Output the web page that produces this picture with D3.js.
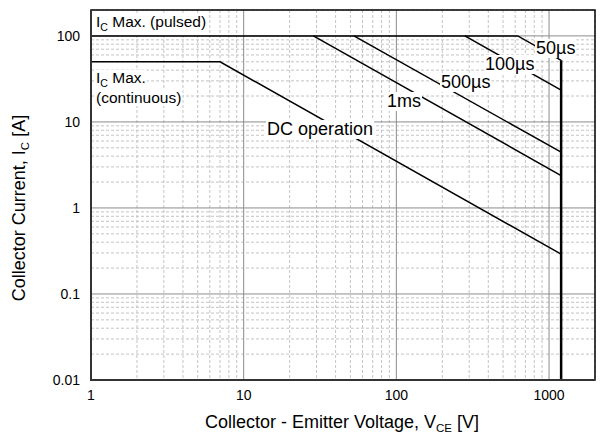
<!DOCTYPE html>
<html>
<head>
<meta charset="utf-8">
<script src="https://cdn.jsdelivr.net/npm/d3@7"></script>
<style>
	body { margin: 0; background: #fff; }
	text { font-family: "Liberation Sans", Arial, sans-serif; fill: #000; }
</style>
</head>
<body>
<svg id="svg" width="602" height="435"></svg>
<script>
// axis ranges and ticks
const xDomain = [1, 2000];
const yDomain = [0.01, 200];
const xTickValues = [1, 10, 100, 1000];
const yTickValues = [0.01, 0.1, 1, 10, 100];

// SOA boundaries (VCE [V], IC [A])
const pulsedMax = [[1, 100], [624, 100], [1200, 52]];   // Ic max pulsed + 50us
const pulse100us = [[281, 100], [1200, 23.4]];
const pulse500us = [[52.7, 100], [1200, 4.45]];
const pulse1ms = [[28.6, 100], [1200, 2.38]];
const dcOperation = [[1, 50], [7, 50], [1200, 0.29]];
const vceLimit = [[1200, 52], [1200, 0.01]];

const margin = { left: 91, top: 10, right: 7, bottom: 55 };
const width = 602 - margin.left - margin.right,
	height = 435 - margin.top - margin.bottom;

const svg = d3.select('#svg');
const g = svg.append('g').attr('transform', `translate(${margin.left},${margin.top})`);

const x = d3.scaleLog().domain(xDomain).range([0, width]);
const y = d3.scaleLog().domain(yDomain).range([height, 0]);

const isDecade = v => Math.abs(Math.log10(v) - Math.round(Math.log10(v))) < 1e-9;

// minor grid
const xMinor = x.ticks().filter(v => !isDecade(v));
const yMinor = y.ticks().filter(v => !isDecade(v));
g.append('g').selectAll('line').data(xMinor).enter().append('line')
	.attr('x1', d => x(d)).attr('x2', d => x(d)).attr('y1', 0).attr('y2', height)
	.attr('stroke', '#c4c4c4').attr('stroke-dasharray', '3,2').attr('stroke-width', 1);
g.append('g').selectAll('line').data(yMinor).enter().append('line')
	.attr('y1', d => y(d)).attr('y2', d => y(d)).attr('x1', 0).attr('x2', width)
	.attr('stroke', '#c4c4c4').attr('stroke-dasharray', '3,2').attr('stroke-width', 1);

// major grid
g.append('g').selectAll('line').data(xTickValues).enter().append('line')
	.attr('x1', d => x(d)).attr('x2', d => x(d)).attr('y1', 0).attr('y2', height)
	.attr('stroke', '#8c8c8c').attr('stroke-width', 1);
g.append('g').selectAll('line').data(yTickValues).enter().append('line')
	.attr('y1', d => y(d)).attr('y2', d => y(d)).attr('x1', 0).attr('x2', width)
	.attr('stroke', '#8c8c8c').attr('stroke-width', 1);

// curves
const line = d3.line().x(d => x(d[0])).y(d => y(d[1]));
[pulsedMax, pulse100us, pulse500us, pulse1ms, dcOperation].forEach(s => {
	g.append('path').datum(s).attr('d', line)
		.attr('fill', 'none').attr('stroke', '#000').attr('stroke-width', 1.5);
});
g.append('path').datum(vceLimit).attr('d', line)
	.attr('fill', 'none').attr('stroke', '#000').attr('stroke-width', 2.5);

// labels with white boxes
function label(px, py, size, parts) {
	let lg = g.append('g');
	let t = lg.append('text').attr('x', px - margin.left).attr('y', py - margin.top)
		.style('font-size', size + 'px');
	parts.forEach(p => {
		let ts = t.append('tspan').text(p.t);
		if (p.sub) ts.style('font-size', (size * 0.68) + 'px').attr('dy', 4);
		if (p.back) ts.attr('dy', -4);
	});
	let b = t.node().getBBox();
	lg.insert('rect', 'text').attr('x', b.x - 1).attr('y', b.y + 1)
		.attr('width', b.width + 2).attr('height', b.height - 1).attr('fill', '#fff');
}
label(96, 27, 15.5, [{ t: 'I' }, { t: 'C', sub: true }, { t: ' Max. (pulsed)', back: true }]);
label(96, 83, 15.5, [{ t: 'I' }, { t: 'C', sub: true }, { t: ' Max.', back: true }]);
label(96, 103, 15.5, [{ t: '(continuous)' }]);
label(267, 135, 18, [{ t: 'DC operation' }]);
label(387, 107, 18, [{ t: '1ms' }]);
label(441, 88, 18, [{ t: '500\u00b5s' }]);
label(485, 70, 18, [{ t: '100\u00b5s' }]);
label(536, 54, 18, [{ t: '50\u00b5s' }]);

// frame
g.append('rect').attr('x', 0).attr('y', 0).attr('width', width).attr('height', height)
	.attr('fill', 'none').attr('stroke', '#000').attr('stroke-width', 1.5);
g.append('path').attr('d', `M0,0V${height}H${width}`)
	.attr('fill', 'none').attr('stroke', '#333').attr('stroke-width', 2);

// tick labels
const fmt = d => d >= 1 ? d3.format('d')(d) : String(d);
g.append('g').selectAll('text').data(xTickValues).enter().append('text')
	.attr('x', d => x(d)).attr('y', height + 20)
	.attr('text-anchor', 'middle').style('font-size', '14px').text(fmt);
g.append('g').selectAll('text').data(yTickValues).enter().append('text')
	.attr('x', -11).attr('y', d => y(d) + 5)
	.attr('text-anchor', 'end').style('font-size', '14px').text(fmt);

// axis titles
let xt = svg.append('text').attr('x', 342).attr('y', 428).attr('text-anchor', 'middle')
	.style('font-size', '18px');
xt.append('tspan').text('Collector - Emitter Voltage, V');
xt.append('tspan').text('CE').style('font-size', '11.5px').attr('dy', 4);
xt.append('tspan').text(' [V]').attr('dy', -4);

let yt = svg.append('text').attr('transform', 'translate(25,208) rotate(-90)')
	.attr('text-anchor', 'middle').style('font-size', '18px');
yt.append('tspan').text('Collector Current, I');
yt.append('tspan').text('C').style('font-size', '11.5px').attr('dy', 4);
yt.append('tspan').text(' [A]').attr('dy', -4);
</script>
</body>
</html>
